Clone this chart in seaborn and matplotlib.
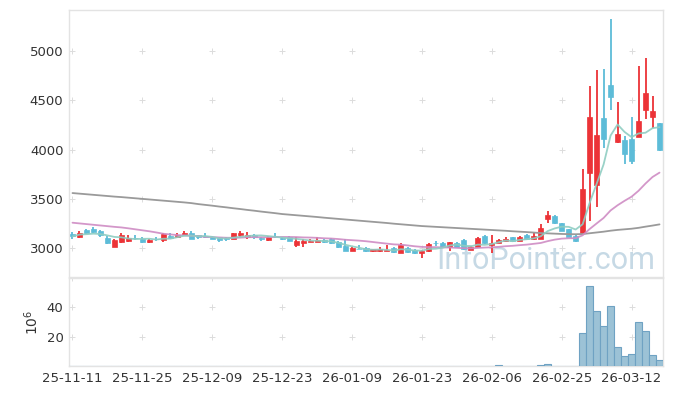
import numpy as np
import pandas as pd
import matplotlib
matplotlib.use("Agg")
import matplotlib.pyplot as plt
from matplotlib import font_manager
import seaborn as sns

# trading days (YY-MM-DD)
dates = [
    "25-11-11", "25-11-12", "25-11-13", "25-11-14", "25-11-17", "25-11-18", "25-11-19", "25-11-20",
    "25-11-21", "25-11-24", "25-11-25", "25-11-26", "25-11-27", "25-11-28", "25-12-01", "25-12-02",
    "25-12-03", "25-12-04", "25-12-05", "25-12-08", "25-12-09", "25-12-10", "25-12-11", "25-12-12",
    "25-12-15", "25-12-16", "25-12-17", "25-12-18", "25-12-19", "25-12-22", "25-12-23", "25-12-24",
    "25-12-26", "25-12-29", "25-12-30", "26-01-02", "26-01-05", "26-01-06", "26-01-07", "26-01-08",
    "26-01-09", "26-01-12", "26-01-13", "26-01-14", "26-01-15", "26-01-16", "26-01-19", "26-01-20",
    "26-01-21", "26-01-22", "26-01-23", "26-01-26", "26-01-27", "26-01-28", "26-01-29", "26-01-30",
    "26-02-02", "26-02-03", "26-02-04", "26-02-05", "26-02-06", "26-02-09", "26-02-10", "26-02-11",
    "26-02-12", "26-02-13", "26-02-19", "26-02-20", "26-02-23", "26-02-24", "26-02-25", "26-02-26",
    "26-02-27", "26-03-03", "26-03-04", "26-03-05", "26-03-06", "26-03-09", "26-03-10", "26-03-11",
    "26-03-12", "26-03-13", "26-03-16", "26-03-17", "26-03-18",
]

opens = [
    3145, 3115, 3179, 3192, 3169, 3101, 3013, 3057, 3067, 3103, 3094, 3061, 3090, 3081, 3118, 3108,
    3128, 3155, 3128, 3118, 3115, 3108, 3101, 3094, 3135, 3115, 3135, 3101, 3081, 3124, 3096, 3108,
    3034, 3054, 3064, 3061, 3081, 3094, 3061, 3020, 2973, 2993, 3000, 2966, 2966, 2973, 3000, 2952,
    3000, 2980, 2946, 2966, 3050, 3054, 3013, 3054, 3081, 2985, 3010, 3122, 3034, 3054, 3075, 3108,
    3075, 3135, 3095, 3088, 3298, 3325, 3250, 3190, 3121, 3155, 3757, 3642, 4318, 4652, 4078, 4095,
    4102, 4129, 4396, 4325, 4264,
]
highs = [
    3162, 3168, 3192, 3209, 3182, 3118, 3088, 3152, 3135, 3128, 3115, 3094, 3108, 3152, 3150, 3152,
    3169, 3175, 3135, 3152, 3121, 3115, 3115, 3155, 3169, 3162, 3142, 3115, 3121, 3155, 3115, 3118,
    3108, 3088, 3094, 3108, 3094, 3101, 3074, 3088, 3013, 3027, 3013, 2993, 3007, 3027, 3010, 3047,
    3007, 2990, 2980, 3047, 3067, 3061, 3061, 3061, 3088, 3020, 3115, 3135, 3135, 3088, 3108, 3115,
    3122, 3142, 3149, 3244, 3372, 3332, 3257, 3196, 3128, 3807, 4649, 4805, 4821, 5328, 4487, 4135,
    4331, 4845, 4933, 4541, 4270,
]
lows = [
    3094, 3104, 3142, 3148, 3115, 3040, 3006, 3047, 3061, 3081, 3047, 3051, 3067, 3061, 3094, 3101,
    3121, 3088, 3088, 3101, 3088, 3061, 3067, 3094, 3108, 3094, 3094, 3074, 3074, 3101, 3081, 3067,
    3013, 3013, 3061, 3061, 3047, 3040, 3000, 2966, 2966, 2986, 2959, 2959, 2959, 2966, 2948, 2952,
    2952, 2940, 2898, 2959, 3020, 3013, 2973, 3007, 2980, 2980, 3000, 3040, 2946, 3047, 3068, 3061,
    3068, 3081, 3081, 3088, 3250, 3244, 3169, 3108, 3060, 3155, 3270, 3412, 4020, 4399, 4061, 3851,
    3858, 4129, 4311, 4223, 3980,
]
closes = [
    3118, 3155, 3149, 3162, 3128, 3047, 3078, 3128, 3101, 3100, 3061, 3081, 3088, 3142, 3104, 3135,
    3155, 3094, 3108, 3115, 3094, 3081, 3088, 3148, 3155, 3135, 3108, 3094, 3115, 3120, 3092, 3074,
    3067, 3074, 3074, 3081, 3061, 3047, 3007, 2973, 3000, 2989, 2966, 2986, 2986, 2980, 2955, 3034,
    2959, 2946, 2973, 3040, 3047, 3013, 3061, 3013, 2986, 3010, 3105, 3048, 3054, 3081, 3095, 3068,
    3115, 3088, 3122, 3203, 3332, 3250, 3176, 3115, 3067, 3598, 4331, 4146, 4102, 4534, 4156, 3953,
    3885, 4287, 4571, 4389, 4000,
]
# volume in millions
volumes = [
    0.05, 0.04, 0.05, 0.04, 0.05, 0.06, 0.05, 0.05, 0.04, 0.04, 0.05, 0.04, 0.04, 0.05, 0.04, 0.04,
    0.05, 0.05, 0.04, 0.04, 0.04, 0.05, 0.04, 0.05, 0.05, 0.04, 0.04, 0.04, 0.04, 0.04, 0.04, 0.04,
    0.05, 0.04, 0.04, 0.04, 0.05, 0.05, 0.06, 0.06, 0.05, 0.04, 0.05, 0.04, 0.04, 0.04, 0.05, 0.06,
    0.05, 0.05, 0.06, 0.06, 0.05, 0.05, 0.05, 0.05, 0.06, 0.05, 0.08, 0.07, 0.06, 0.7, 0.08, 0.06,
    0.07, 0.07, 0.08, 0.4, 1.3, 0.2, 0.15, 0.12, 0.1, 22.2, 54.3, 37.3, 27.6, 40.9, 12.9, 6.9,
    8.2, 30.2, 23.6, 7.6, 4.4,
]
# 20-day average before enough days are on the chart
ma20_head = [3257, 3250, 3243, 3236, 3229, 3222, 3215, 3209, 3200, 3190, 3180, 3170, 3158, 3145,
             3138, 3132, 3128, 3125, 3122]
# long (120-day) average line
ma120 = [
    3558, 3552, 3546, 3540, 3534, 3528, 3522, 3517, 3511, 3505, 3499, 3493, 3487, 3481, 3475, 3469,
    3463, 3456, 3446, 3438, 3430, 3421, 3413, 3404, 3396, 3387, 3379, 3370, 3362, 3354, 3345, 3339,
    3333, 3327, 3321, 3315, 3308, 3302, 3296, 3290, 3284, 3278, 3272, 3266, 3260, 3254, 3247, 3241,
    3235, 3229, 3223, 3219, 3215, 3211, 3207, 3203, 3199, 3195, 3191, 3187, 3183, 3179, 3175, 3170,
    3166, 3162, 3157, 3152, 3149, 3146, 3143, 3141, 3140, 3142, 3150, 3158, 3166, 3176, 3184, 3190,
    3196, 3205, 3217, 3228, 3240,
]

df = pd.DataFrame({"date": dates, "open": opens, "high": highs, "low": lows,
                   "close": closes, "volume": volumes})
df["i"] = np.arange(len(df))
df["ma5"] = df["close"].rolling(5, min_periods=1).mean()
df["ma20"] = df["close"].rolling(20).mean()
df.loc[:len(ma20_head) - 1, "ma20"] = ma20_head
df["ma120"] = ma120

sns.set_theme(style="white")
plt.rcParams["font.family"] = ["DejaVu Sans"]

installed = {f.name for f in font_manager.fontManager.ttflist}
if "Liberation Sans Narrow" in installed:
    wm_font, wm_size = "Liberation Sans Narrow", 27
else:
    wm_font, wm_size = "Roboto", 22

RED = "#ec3337"
BLUE = "#5dbcd8"
up = df["close"] >= df["open"]
cols = np.where(up, RED, BLUE)

fig = plt.figure(figsize=(6.73, 3.96), dpi=100)
ax = fig.add_axes([69 / 673, 1 - 277 / 396, 594 / 673, 267 / 396])
axv = fig.add_axes([69 / 673, 1 - 366 / 396, 594 / 673, 88 / 396], sharex=ax)

# watermark
ax.text(0.987, 0.03, "InfoPointer.com", transform=ax.transAxes, ha="right", va="baseline",
        fontsize=wm_size, family=wm_font, color="#c6d9e5", zorder=0.5)

# candles
ax.vlines(df["i"], df["low"], df["high"], colors=cols, lw=1.3, zorder=2)
body_lo = np.minimum(df["open"], df["close"])
body_h = np.maximum((df["close"] - df["open"]).abs(), 6)
ax.bar(df["i"], body_h, bottom=body_lo, width=0.72, color=cols, edgecolor=cols,
       linewidth=0.5, zorder=3)

# moving averages
sns.lineplot(data=df, x="i", y="ma120", ax=ax, color="#9a9a9a", lw=1.3, zorder=4)
sns.lineplot(data=df, x="i", y="ma20", ax=ax, color="#cf8cc4", lw=1.3, alpha=0.9, zorder=4)
sns.lineplot(data=df, x="i", y="ma5", ax=ax, color="#8fcdc2", lw=1.3, alpha=0.9, zorder=4)

# volume
axv.bar(df["i"], df["volume"], width=1.0, color="#9cc2d6", edgecolor="#6fa2c3",
        linewidth=0.8, zorder=3)

ax.set_xlim(-0.5, 84.5)
ax.set_ylim(2706, 5416)
axv.set_ylim(0, 60)

xt = list(range(0, len(dates), 10))
yt = [3000, 3500, 4000, 4500, 5000]
vt = [20, 40]

ax.set_yticks(yt)
ax.set_yticklabels([str(v) for v in yt])
axv.set_yticks(vt)
axv.set_yticklabels([str(v) for v in vt])
axv.set_xticks(xt)
axv.set_xticklabels([dates[k] for k in xt])
ax.tick_params(axis="x", labelbottom=False, length=0)
for a in (ax, axv):
    a.tick_params(axis="both", length=0, labelsize=9.5, colors="#333333", pad=4)
    a.set_xlabel("")
    a.set_ylabel("")
    for s in a.spines.values():
        s.set_color("#e3e3e3")
        s.set_linewidth(1)

# "+" grid marks at tick crossings
gx, gy = np.meshgrid(xt, yt)
ax.plot(gx.ravel(), gy.ravel(), ls="none", marker="+", ms=4.5, mew=0.7, color="#dcdcdc", zorder=1)
gx, gy = np.meshgrid(xt, vt + [60])
axv.plot(gx.ravel(), gy.ravel(), ls="none", marker="+", ms=4.5, mew=0.7, color="#dcdcdc", zorder=1)

axv.set_ylabel(r"$10^{6}$", fontsize=10, color="#333333", labelpad=4)

fig.savefig("out.png", dpi=100)
